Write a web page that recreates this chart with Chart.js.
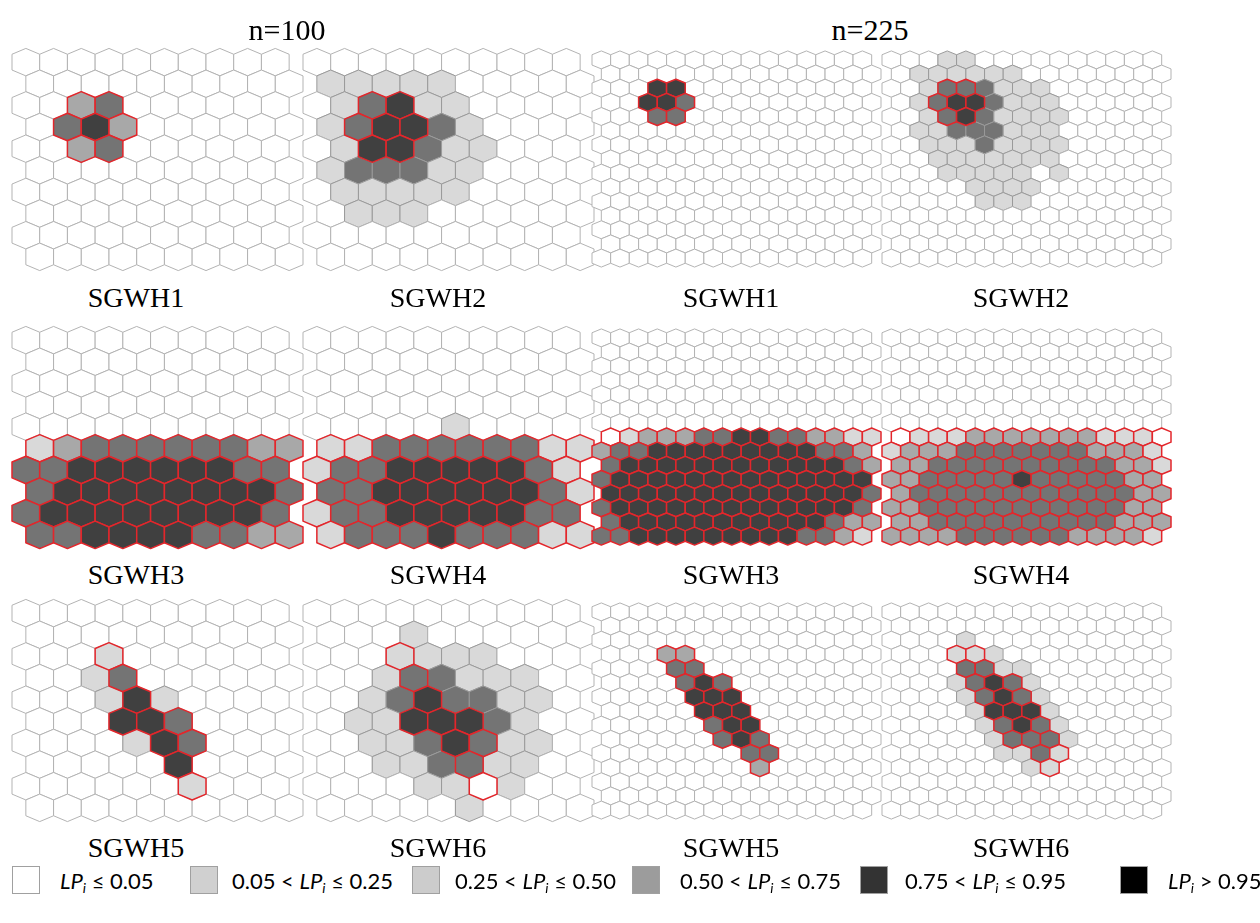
<!DOCTYPE html>
<html><head><meta charset="utf-8">
<script src="https://cdn.jsdelivr.net/npm/chart.js@4.4.0/dist/chart.umd.min.js"></script>
<style>
body{margin:0;background:#fff;}
#wrap{position:relative;width:1260px;height:923px;overflow:hidden;background:#fff;}
#wrap canvas{position:absolute;}
.t{position:absolute;font-family:"Liberation Serif","Times New Roman",serif;color:#000;white-space:nowrap;transform:translate(-50%,-50%);}
.lb{position:absolute;width:28px;height:28px;box-sizing:border-box;border:1px solid #a0a0a0;}
.lt{position:absolute;font-family:Lato,"Open Sans",sans-serif;font-size:22px;color:#000;white-space:nowrap;transform:translateY(-50%);}
.lt sub{font-size:14px;vertical-align:-4px;}
</style></head><body><div id="wrap"></div>
<script>
// ---------- data ----------
const groupLabels = ["n=100", "n=225"];
const classLabels = ["LP≤0.05","0.05<LP≤0.25","0.25<LP≤0.50","0.50<LP≤0.75","0.75<LP≤0.95","LP>0.95"];
const classColors = ["#ffffff","#d9d9d9","#a8a8a8","#747474","#404040","#000000"];
const legendColors = ["#ffffff","#d0d0d0","#cccccc","#9c9c9c","#333333","#000000"];

// n = 100 (10 x 10), digits = LP class per cell, rows top to bottom
const n100_SGWH1 = ["0000000000","0000000000","0023000000","0342000000","0023000000","0000000000","0000000000","0000000000","0000000000","0000000000"];
const n100_SGWH2 = ["0000000000","1111100000","0134110000","1344310000","0144311000","1333110000","0111110000","0111000000","0000000000","0000000000"];
const n100_SGWH3 = ["0000000000","0000000000","0000000000","0000000000","0000000000","1233333322","3344444433","3444444443","3444444443","3344443322"];
const n100_SGWH4 = ["0000000000","0000000000","0000000000","0000000000","0000010000","1133333311","1334444431","3344444431","1334444433","1333433311"];
const n100_SGWH5 = ["0000000000","0000000000","0001000000","0013000000","0001410000","0004430000","0000143000","0000040000","0000001000","0000000000"];
const n100_SGWH6 = ["0000000000","0001000000","0001111000","0013311100","0013433110","0114443100","0011343110","0011331100","0000110100","0000010000"];
// true cluster masks (red outline)
const mask100_A = ["0000000000","0000000000","0011000000","0111000000","0011000000","0000000000","0000000000","0000000000","0000000000","0000000000"];
const mask100_B = ["0000000000","0000000000","0000000000","0000000000","0000000000","1111111111","1111111111","1111111111","1111111111","1111111111"];
const mask100_C = ["0000000000","0000000000","0001000000","0001000000","0000100000","0001110000","0000011000","0000010000","0000001000","0000000000"];

// n = 225 (15 x 15)
const n225_SGWH1 = ["000000000000000","000000000000000","000440000000000","004430000000000","000330000000000","000000000000000","000000000000000","000000000000000","000000000000000","000000000000000","000000000000000","000000000000000","000000000000000","000000000000000","000000000000000"];
const n225_SGWH2 = ["000110000000000","011111100000000","001333111000000","013443111000000","001343111100000","011333111000000","001113111100000","001111111000000","000111110100000","000011110000000","000001110000000","000000000000000","000000000000000","000000000000000","000000000000000"];
const n225_SGWH3 = ["000000000000000","000000000000000","000000000000000","000000000000000","000000000000000","000000000000000","000000000000000","012223344332211","233444444444332","344444444444432","344444444444444","444444444444443","344444444444443","344444444444322","334444444443321"];
const n225_SGWH4 = ["000000000000000","000000000000000","000000000000000","000000000000000","000000000000000","000000000000000","000000000000000","011122222221110","122233333332221","223333333333221","223333343333322","233333333333322","223333333333322","223333333333222","222233333322221"];
const n225_SGWH5 = ["000000000000000","000000000000000","000000000000000","000220000000000","000033000000000","000034300000000","000004440000000","000004440000000","000000344000000","000000343000000","000000003300000","000000002000000","000000000000000","000000000000000","000000000000000"];
const n225_SGWH6 = ["000000000000000","000000000000000","000010000000000","000111000000000","000033110000000","000134310000000","000013431000000","000014441000000","000001343100000","000001333100000","000000113100000","000000011000000","000000000000000","000000000000000","000000000000000"];
const mask225_A = ["000000000000000","000000000000000","000110000000000","001110000000000","000110000000000","000000000000000","000000000000000","000000000000000","000000000000000","000000000000000","000000000000000","000000000000000","000000000000000","000000000000000","000000000000000"];
const mask225_B = ["000000000000000","000000000000000","000000000000000","000000000000000","000000000000000","000000000000000","000000000000000","111111111111111","111111111111111","111111111111111","111111111111111","111111111111111","111111111111111","111111111111111","111111111111111"];
const mask225_C = ["000000000000000","000000000000000","000000000000000","000110000000000","000011000000000","000011100000000","000001110000000","000001110000000","000000111000000","000000111000000","000000001100000","000000001000000","000000000000000","000000000000000","000000000000000"];

const panelTitles = ["SGWH1","SGWH2","SGWH3","SGWH4","SGWH5","SGWH6"];

// ---------- layout ----------
const wrap = document.getElementById('wrap');
const TIP = 0.27;
const geo = {
  100: {uw: 27.67, s: 21.67, cx: [25.7, 317.0], cy: [62, 340.3, 613.3]},
  225: {uw: 18.67, s: 14.15, cx: [601.7, 891.7], cy: [60.2, 338.3, 611.7]}
};
const titleX = {100: [136, 438], 225: [731, 1021]};
const titleY = [298, 575, 848];
const panels = [
  {n:100, g:n100_SGWH1, m:mask100_A, col:0, row:0, title:panelTitles[0]},
  {n:100, g:n100_SGWH2, m:mask100_A, col:1, row:0, title:panelTitles[1]},
  {n:225, g:n225_SGWH1, m:mask225_A, col:0, row:0, title:panelTitles[0]},
  {n:225, g:n225_SGWH2, m:mask225_A, col:1, row:0, title:panelTitles[1]},
  {n:100, g:n100_SGWH3, m:mask100_B, col:0, row:1, title:panelTitles[2]},
  {n:100, g:n100_SGWH4, m:mask100_B, col:1, row:1, title:panelTitles[3]},
  {n:225, g:n225_SGWH3, m:mask225_B, col:0, row:1, title:panelTitles[2]},
  {n:225, g:n225_SGWH4, m:mask225_B, col:1, row:1, title:panelTitles[3]},
  {n:100, g:n100_SGWH5, m:mask100_C, col:0, row:2, title:panelTitles[4]},
  {n:100, g:n100_SGWH6, m:mask100_C, col:1, row:2, title:panelTitles[5]},
  {n:225, g:n225_SGWH5, m:mask225_C, col:0, row:2, title:panelTitles[4]},
  {n:225, g:n225_SGWH6, m:mask225_C, col:1, row:2, title:panelTitles[5]}
];

const hexPlugin = {
  id: 'hexcells',
  afterDatasetsDraw(chart) {
    const ctx = chart.ctx, xs = chart.scales.x, ys = chart.scales.y;
    const hw = Math.abs(xs.getPixelForValue(0.5) - xs.getPixelForValue(0));
    const s = Math.abs(ys.getPixelForValue(1) - ys.getPixelForValue(0));
    const t = s * TIP, h1 = (s + t) / 2, h2 = (s - t) / 2;
    const meta = chart.getDatasetMeta(0);
    const raw = chart.data.datasets[0].data;
    const order = raw.map((d, i) => i).sort((a, b) => raw[a].red - raw[b].red);
    ctx.save();
    ctx.lineJoin = 'round';
    for (const i of order) {
      const el = meta.data[i], d = raw[i];
      const x = el.x, y = el.y;
      ctx.beginPath();
      ctx.moveTo(x, y - h1);
      ctx.lineTo(x + hw, y - h2);
      ctx.lineTo(x + hw, y + h2);
      ctx.lineTo(x, y + h1);
      ctx.lineTo(x - hw, y + h2);
      ctx.lineTo(x - hw, y - h2);
      ctx.closePath();
      ctx.fillStyle = classColors[d.v];
      ctx.fill();
      ctx.strokeStyle = d.red ? '#e3262b' : (d.v > 0 ? '#9a9a9a' : '#b3b3b3');
      ctx.lineWidth = d.red ? 1.5 : 1;
      ctx.stroke();
    }
    ctx.restore();
  }
};

function addText(txt, x, y, size) {
  const d = document.createElement('div');
  d.className = 't';
  d.style.left = x + 'px'; d.style.top = y + 'px'; d.style.fontSize = size + 'px';
  d.textContent = txt;
  wrap.appendChild(d);
}

panels.forEach(p => {
  const G = geo[p.n], N = Math.round(Math.sqrt(p.n));
  const pad = 3;
  const cx0 = G.cx[p.col], cy0 = G.cy[p.row];
  const w = (N + 0.5) * G.uw, h = (N - 1 + 1.4) * G.s;
  const left = cx0 - 0.5 * G.uw - pad, top = cy0 - 0.7 * G.s - pad;
  const cv = document.createElement('canvas');
  cv.width = Math.round(w + 2 * pad); cv.height = Math.round(h + 2 * pad);
  cv.style.left = left + 'px'; cv.style.top = top + 'px';
  wrap.appendChild(cv);
  const cells = [];
  for (let r = 0; r < N; r++) for (let c = 0; c < N; c++) {
    cells.push({x: c + (r % 2) * 0.5, y: r, v: +p.g[r][c], red: +p.m[r][c]});
  }
  new Chart(cv, {
    type: 'scatter',
    data: {datasets: [{data: cells, pointRadius: 0, pointHoverRadius: 0}]},
    options: {
      responsive: false, animation: false, events: [],
      layout: {padding: pad},
      plugins: {legend: {display: false}, tooltip: {enabled: false}},
      scales: {
        x: {type: 'linear', min: -0.5, max: N, display: false},
        y: {type: 'linear', min: -0.7, max: N - 1 + 0.7, reverse: true, display: false}
      }
    },
    plugins: [hexPlugin]
  });
  addText(p.title, titleX[p.n][p.col], titleY[p.row], 28);
});

addText(groupLabels[0], 287, 30, 30);
addText(groupLabels[1], 870, 30, 30);

// legend
const legBoxX = [12, 190, 412, 632, 860, 1120];
const legTextX = [60, 232, 455, 680, 905, 1168];
const legHTML = [
  '<i>LP</i><sub><i>i</i></sub> ≤ 0.05',
  '0.05 &lt; <i>LP</i><sub><i>i</i></sub> ≤ 0.25',
  '0.25 &lt; <i>LP</i><sub><i>i</i></sub> ≤ 0.50',
  '0.50 &lt; <i>LP</i><sub><i>i</i></sub> ≤ 0.75',
  '0.75 &lt; <i>LP</i><sub><i>i</i></sub> ≤ 0.95',
  '<i>LP</i><sub><i>i</i></sub> &gt; 0.95'
];
legendColors.forEach((col, i) => {
  const b = document.createElement('div');
  b.className = 'lb';
  b.style.left = legBoxX[i] + 'px'; b.style.top = '866px'; b.style.background = col;
  wrap.appendChild(b);
  const t = document.createElement('div');
  t.className = 'lt';
  t.style.left = legTextX[i] + 'px'; t.style.top = '881px';
  t.innerHTML = legHTML[i];
  wrap.appendChild(t);
});
</script></body></html>
